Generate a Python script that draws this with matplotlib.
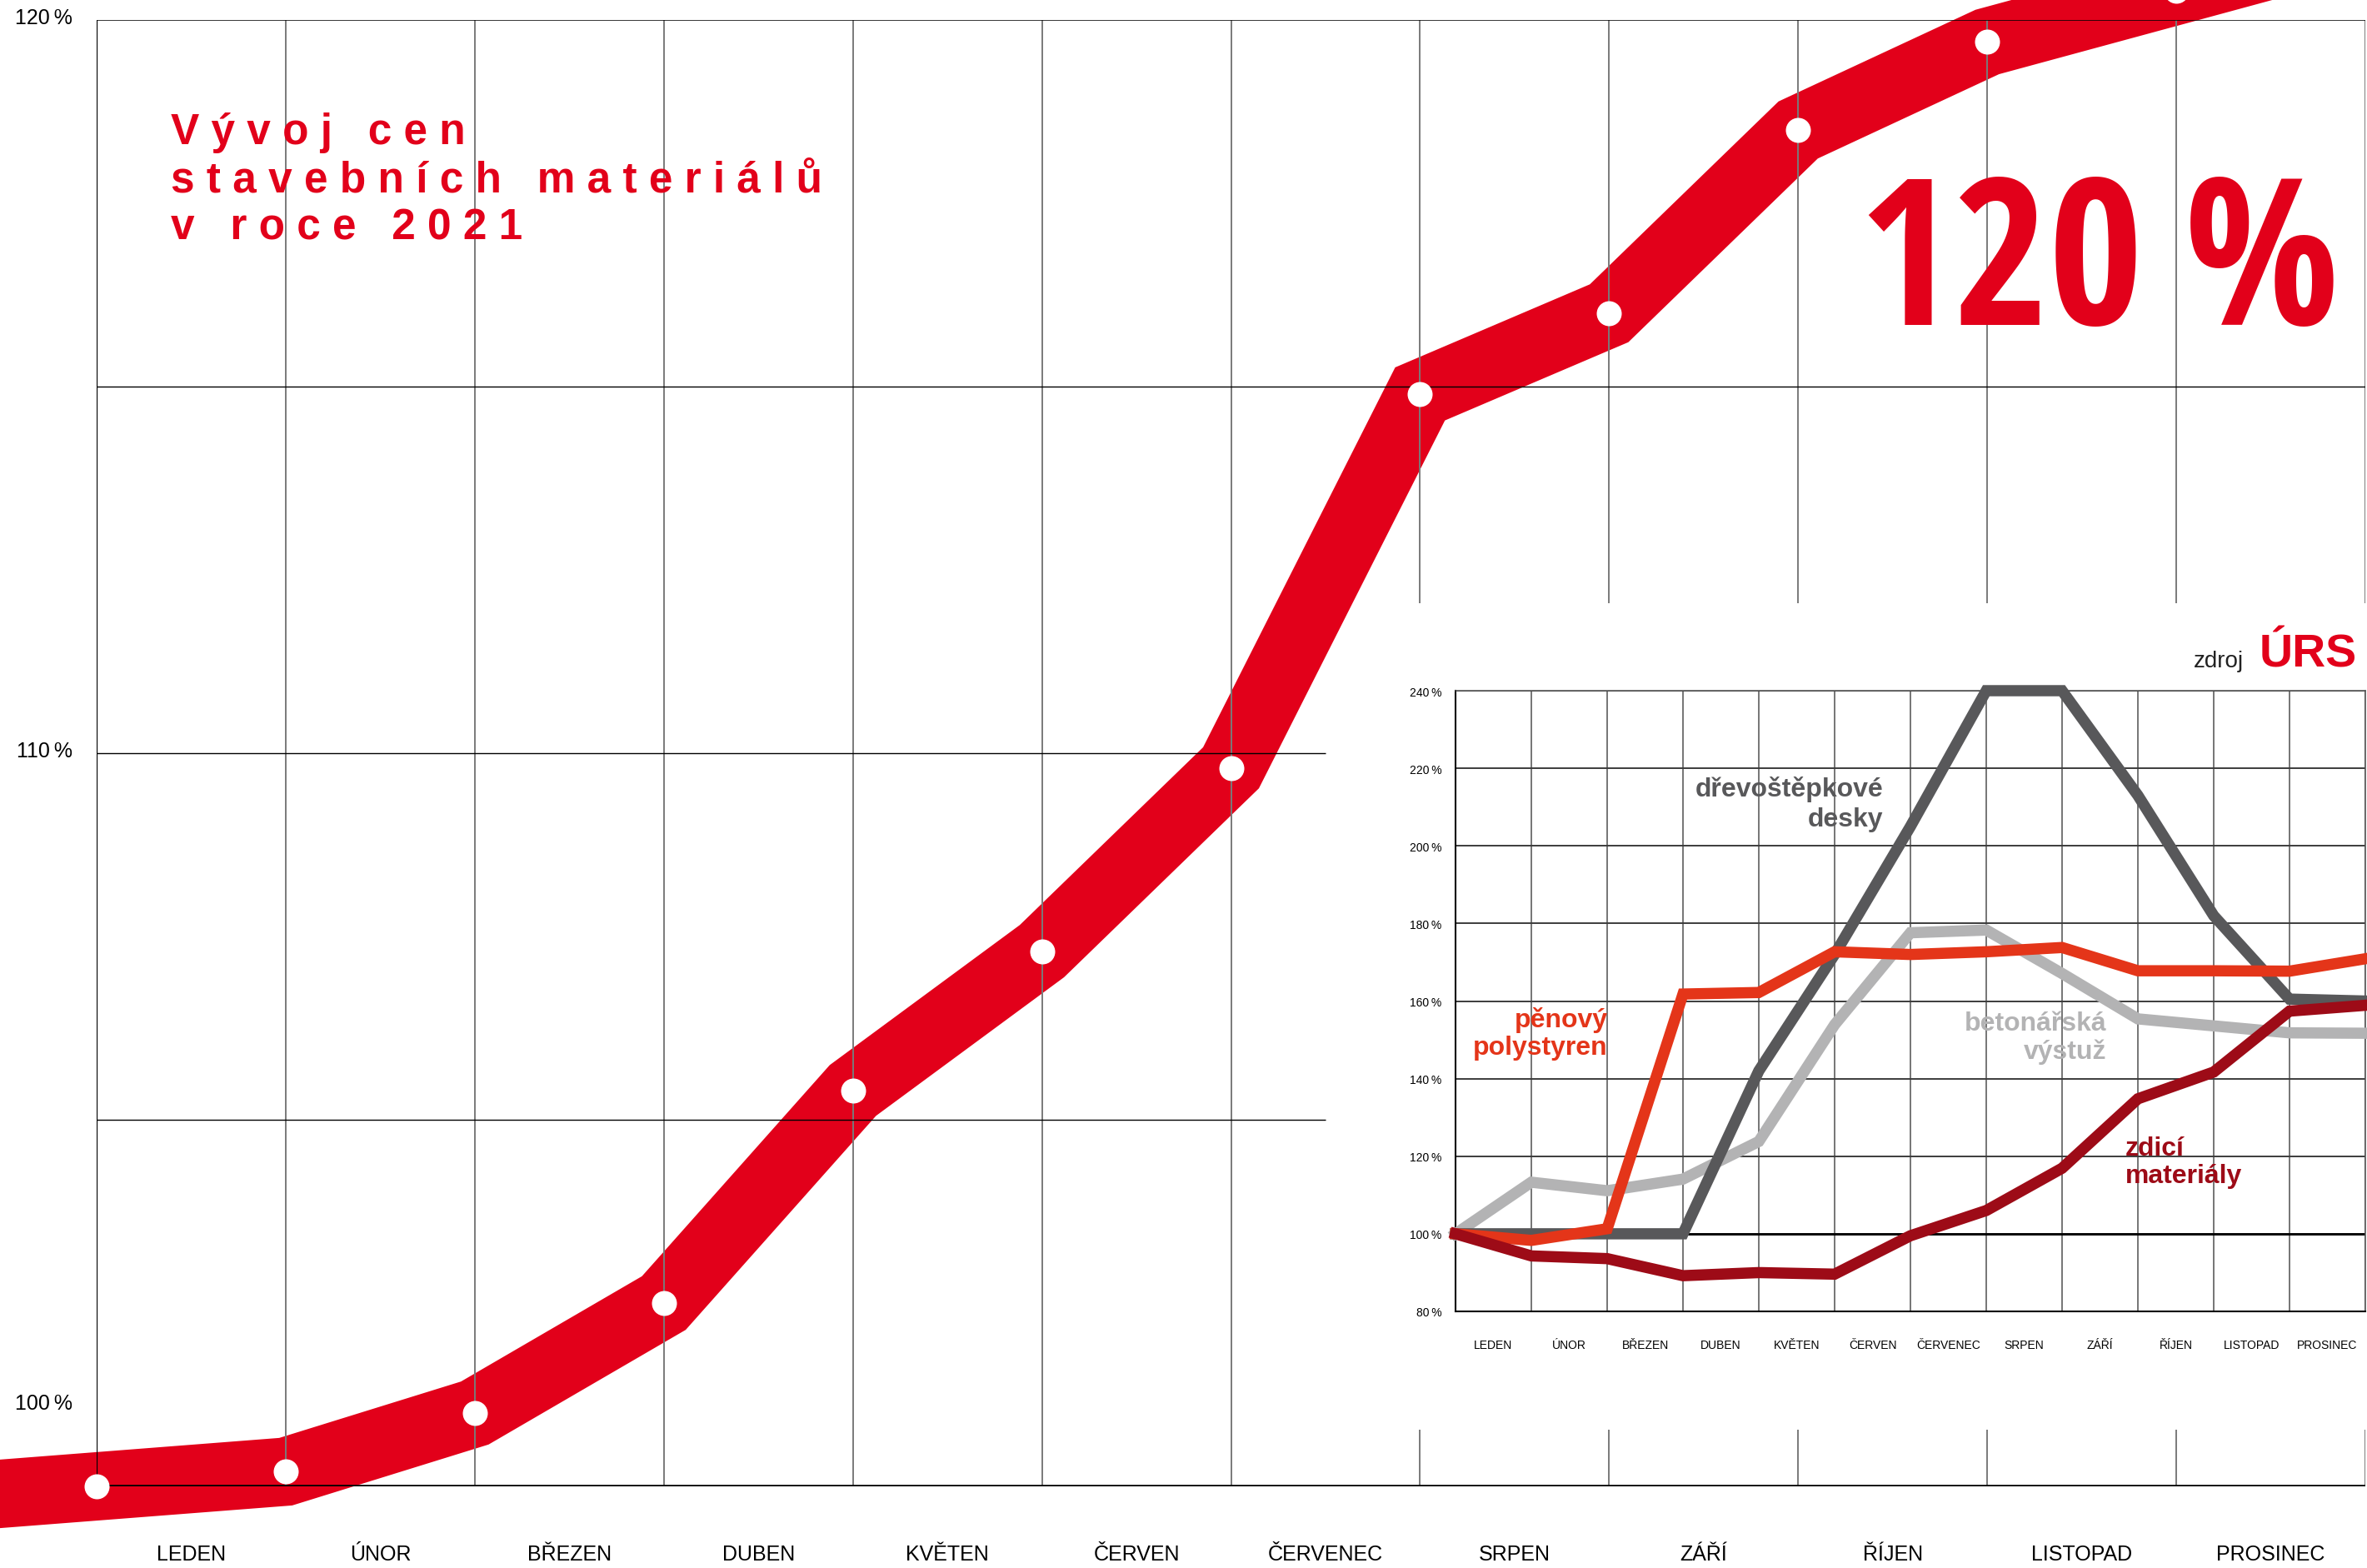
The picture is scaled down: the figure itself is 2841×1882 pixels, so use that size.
import numpy as np
import matplotlib.pyplot as plt
from matplotlib import font_manager as fm
from matplotlib.patches import Polygon
from matplotlib.transforms import IdentityTransform

# data
months = ['LEDEN', 'ÚNOR', 'BŘEZEN', 'DUBEN', 'KVĚTEN', 'ČERVEN', 'ČERVENEC',
          'SRPEN', 'ZÁŘÍ', 'ŘÍJEN', 'LISTOPAD', 'PROSINEC']
index_total = [100.0, 100.2, 101.0, 102.5, 105.4, 107.3, 109.8, 114.9, 116.0, 118.5, 119.7, 120.4]
main_ticks = [120, 110, 100]

# inset series (13 points, the last one sits on the right border)
drevo = [100, 100, 100, 100, 142, 172, 205, 240, 240, 213, 182, 160.5, 160]
beton = [100, 113.3, 111.1, 114.1, 123.8, 153.9, 177.6, 178.3, 167.1, 155.4, 153.6, 151.8, 151.7]
polystyren = [100, 98.3, 101.3, 161.8, 162.2, 172.7, 172.0, 172.7, 173.8, 167.8, 167.8, 167.7, 170.9]
zdici = [100, 94.3, 93.6, 89.2, 90.0, 89.6, 99.5, 106.0, 116.9, 134.8, 141.7, 157.4, 158.9]
inset_ticks = list(range(80, 241, 20))

title_lines = ['Vývoj cen', 'stavebních materiálů', 'v roce 2021']

RED = '#e2001a'
DARK = '#58585a'
LIGHT = '#b3b3b4'
ORANGE = '#e43519'
DRED = '#9d0b17'

plt.rcParams['font.family'] = ['Liberation Sans', 'DejaVu Sans']

W, H = 2841, 1883
fig = plt.figure(figsize=(W / 100, H / 100), dpi=100)


def fx(px):
    return px / W


def fy(py):
    return 1 - py / H


def condensed_bold():
    # a narrow bold sans if one is installed, else None
    good = ('Liberation Sans Narrow', 'Noto Sans', 'Roboto', 'Open Sans')
    for f in fm.fontManager.ttflist:
        wt = f.weight if isinstance(f.weight, int) else {'bold': 700, 'heavy': 800, 'black': 900}.get(f.weight, 400)
        narrow = 'Narrow' in f.name or 'Condensed' in f.name or f.stretch in ('condensed', 'semi-condensed')
        if wt >= 700 and narrow and f.name.startswith(good):
            return f.fname
    return None


def band_outline(ax, xs, ys, half_w):
    # outline of a thick polyline with mitred corners, in pixels
    p = ax.transData.transform(np.c_[xs, ys])
    d = np.diff(p, axis=0)
    d /= np.hypot(d[:, 0], d[:, 1])[:, None]
    n = np.c_[-d[:, 1], d[:, 0]]
    off = np.zeros_like(p)
    off[0], off[-1] = n[0], n[-1]
    for i in range(1, len(p) - 1):
        m = n[i - 1] + n[i]
        m /= np.hypot(*m)
        off[i] = m / np.dot(m, n[i])
    return np.vstack([p + off * half_w, (p - off * half_w)[::-1]])


# ---- main chart
ax = fig.add_axes([fx(116), fy(1785), fx(2839) - fx(116), fy(25) - fy(1785)])
ax.set_xlim(0, 12)
ax.set_ylim(100, 120)
ax.axis('off')

x = np.arange(len(index_total))
y = np.array(index_total)
# carry the band past both ends along the first / last segment
xe = np.r_[x[0] - 1, x, x[-1] + 1.5]
ye = np.r_[y[0] - (y[1] - y[0]), y, y[-1] + 1.5 * (y[-1] - y[-2])]
ax.add_patch(Polygon(band_outline(ax, xe, ye, 41), closed=True, fc=RED, ec='none',
                     transform=IdentityTransform(), clip_on=False, zorder=1))

# grid, left open where the inset sits
gap_x, gap_top, gap_bot = 6.5, 112.05, 100.77
for gx in range(1, 13):
    if gx < gap_x:
        ax.vlines(gx, 100, 120, color='#7a7a7a', lw=1.4, zorder=2)
    else:
        ax.vlines([gx, gx], [gap_top, 100], [120, gap_bot], color='#7a7a7a', lw=1.4, zorder=2)
ax.hlines([105, 110], 0, gap_x, color='black', lw=1.0, zorder=2)
ax.hlines(115, 0, 12, color='black', lw=1.0, zorder=2)
ax.hlines(120, 0, 12, color='black', lw=1.1, zorder=2)
ax.vlines(0, 100, 120, color='black', lw=1.6, zorder=2)
ax.hlines(100, 0, 12, color='black', lw=2.6, zorder=2)

ax.plot(x, y, 'o', ms=21.6, mfc='white', mec='none', zorder=3, clip_on=False)

label_y = {120: 120.03, 110: 110.03, 100: 101.14}
for v in main_ticks:
    ax.text(-0.128, label_y[v], f'{v}\u2009%', ha='right', va='center', fontsize=18)
for i, m in enumerate(months):
    ax.text(i + 0.5, 100 - 81 / 88, m, ha='center', va='center', fontsize=18)

# title with wide letter spacing
for i, line in enumerate(title_lines):
    spaced = '   '.join(' '.join(w) for w in line.split())
    fig.text(fx(205), fy(173 + 57.5 * i), spaced, color=RED, fontsize=37,
             fontweight='bold', va='baseline')

# big headline number, sized to the width it has in the original
narrow = condensed_bold()
big_kw = dict(fname=narrow) if narrow else dict(family='Liberation Sans', weight='bold')
big = fig.text(fx(2808), fy(390), f'{index_total[-1]:.0f}\u2009%', color=RED,
               va='baseline', ha='right', fontproperties=fm.FontProperties(size=177, **big_kw))
wpx = big.get_window_extent(renderer=fig.canvas.get_renderer()).width
if wpx > 600:
    big.set_fontsize(177 * 600 / wpx)

# ---- inset
ins = fig.add_axes([fx(1747), fy(1575), fx(2839) - fx(1747), fy(830) - fy(1575)], zorder=2)
ins.set_facecolor('white')
ins.set_xlim(0, 12)
ins.set_ylim(80, 240)
ins.set_yticks(inset_ticks, [f'{v}\u2009%' for v in inset_ticks], fontsize=10)
ins.set_xticks(np.arange(12) + 0.5, months, fontsize=10)
ins.set_xticks(np.arange(13), minor=True)
ins.tick_params(which='both', length=0)
ins.tick_params(axis='x', pad=24)
ins.tick_params(axis='y', pad=12)
ins.grid(axis='y', color='#3c3c3c', lw=1.4)
ins.grid(axis='x', which='minor', color='#505050', lw=1.1)
ins.set_axisbelow(True)
for s in ['top', 'right']:
    ins.spines[s].set_color('#505050')
    ins.spines[s].set_linewidth(1.1)
for s in ['left', 'bottom']:
    ins.spines[s].set_color('black')
    ins.spines[s].set_linewidth(1.5)
ins.axhline(100, color='black', lw=2, zorder=1)

xi = np.arange(len(drevo))
for vals, col in [(beton, LIGHT), (drevo, DARK), (polystyren, ORANGE), (zdici, DRED)]:
    ins.plot(xi, vals, color=col, lw=9.7, solid_joinstyle='miter', clip_on=False, zorder=3)

lab = dict(fontsize=23, fontweight='bold')
fig.text(fx(2260), fy(948), 'dřevoštěpkové', color=DARK, ha='right', va='center', **lab)
fig.text(fx(2260), fy(984), 'desky', color=DARK, ha='right', va='center', **lab)
fig.text(fx(1930), fy(1225), 'pěnový', color=ORANGE, ha='right', va='center', **lab)
fig.text(fx(1930), fy(1258), 'polystyren', color=ORANGE, ha='right', va='center', **lab)
fig.text(fx(2528), fy(1229), 'betonářská', color=LIGHT, ha='right', va='center', **lab)
fig.text(fx(2528), fy(1263), 'výstuž', color=LIGHT, ha='right', va='center', **lab)
fig.text(fx(2551), fy(1379), 'zdicí', color=DRED, ha='left', va='center', **lab)
fig.text(fx(2551), fy(1412), 'materiály', color=DRED, ha='left', va='center', **lab)

fig.text(fx(2633), fy(801), 'zdroj', fontsize=20, va='baseline', color='#222222')
fig.text(fx(2712), fy(801), 'ÚRS', fontsize=40, fontweight='bold', color=RED, va='baseline')

fig.savefig('out.png', dpi=100)
